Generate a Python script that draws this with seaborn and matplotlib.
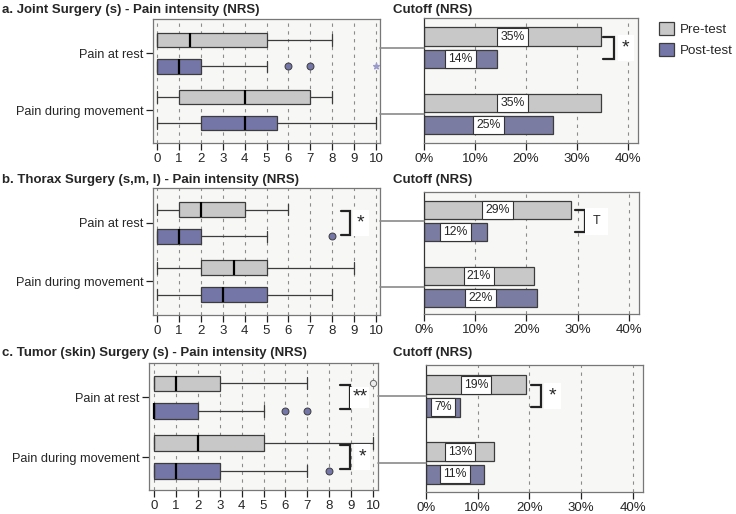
import numpy as np
import pandas as pd
import seaborn as sns
import matplotlib.pyplot as plt
from matplotlib.lines import Line2D
from matplotlib.patches import Patch

sns.set_theme(style="white")
plt.rcParams['font.family'] = ['Liberation Sans', 'DejaVu Sans']

# ---- data ----
categories = ["Pain at rest", "Pain during movement"]
groups = ["Pre-test", "Post-test"]

titles = ["a. Joint Surgery (s) - Pain intensity (NRS)",
          "b. Thorax Surgery (s,m, l) - Pain intensity (NRS)",
          "c. Tumor (skin) Surgery (s) - Pain intensity (NRS)"]

# box summaries, order: rest pre, rest post, movement pre, movement post
a_whislo = [0, 0, 0, 0]
a_q1 = [0, 0, 1, 2]
a_med = [1.5, 1, 4, 4]
a_q3 = [5, 2, 7, 5.5]
a_whishi = [8, 5, 8, 10]
a_fliers = [[], [6, 7], [], []]
a_extremes = [[], [10], [], []]

b_whislo = [0, 0, 0, 0]
b_q1 = [1, 0, 2, 2]
b_med = [2, 1, 3.5, 3]
b_q3 = [4, 2, 5, 5]
b_whishi = [6, 5, 9, 8]
b_fliers = [[], [8], [], []]
b_extremes = [[], [], [], []]

c_whislo = [0, 0, 0, 0]
c_q1 = [0, 0, 0, 0]
c_med = [1, 0, 2, 1]
c_q3 = [3, 2, 5, 3]
c_whishi = [7, 5, 10, 7]
c_fliers = [[10], [6, 7], [], [8]]
c_extremes = [[], [], [], []]

# cutoff (NRS) percentages per category
a_cut_pre = [34.7, 34.7]
a_cut_post = [14.3, 25.4]
b_cut_pre = [28.7, 21.4]
b_cut_post = [12.3, 22.0]
c_cut_pre = [19.4, 13.1]
c_cut_post = [6.6, 11.3]

nrs_ticks = list(range(0, 11))
pct_ticks = [0, 10, 20, 30, 40]
pct_labels = ["0%", "10%", "20%", "30%", "40%"]

# ---- style ----
GREY = "#c8c8c8"
PURPLE = "#7576a8"
EDGE = "#3c3c3c"
BG = "#f7f7f5"
W, H = 736, 514

fig = plt.figure(figsize=(W / 100, H / 100), dpi=100)


def rect(x0, y0, x1, y1):
    return [x0 / W, 1 - y1 / H, (x1 - x0) / W, (y1 - y0) / H]


def style_axes(ax):
    ax.set_facecolor(BG)
    for s in ax.spines.values():
        s.set_color("#777777")
        s.set_linewidth(0.9)
    ax.tick_params(axis="both", which="both", direction="out", length=5,
                   width=0.9, color="#222222", labelsize=9.5, pad=2,
                   left=True, bottom=True)
    ax.grid(False)


def draw_boxes(ax, whislo, q1, med, q3, whishi, fliers, extremes, xlim, ylim):
    pos = [-0.23, 0.23, 0.77, 1.23]
    stats = [dict(whislo=whislo[i], q1=q1[i], med=med[i], q3=q3[i],
                  whishi=whishi[i], fliers=fliers[i]) for i in range(4)]
    for x in nrs_ticks:
        ax.axvline(x, color="#8c8c8c", lw=0.8, ls=(0, (3, 4)), zorder=0)
    art = ax.bxp(stats, positions=pos, widths=0.26, orientation="horizontal",
                 patch_artist=True, capwidths=0.2,
                 boxprops=dict(edgecolor=EDGE, linewidth=0.9),
                 medianprops=dict(color="black", linewidth=1.6),
                 whiskerprops=dict(color=EDGE, linewidth=0.9),
                 capprops=dict(color=EDGE, linewidth=0.9),
                 flierprops=dict(marker="o", markersize=5,
                                 markerfacecolor=PURPLE, markeredgecolor=EDGE,
                                 markeredgewidth=0.7))
    for i, b in enumerate(art["boxes"]):
        b.set_facecolor(GREY if i % 2 == 0 else PURPLE)
    for i, f in enumerate(art["fliers"]):
        f.set_clip_on(False)
        f.set_zorder(6)
        if i % 2 == 0:
            f.set_markerfacecolor("#ececec")
            f.set_markeredgecolor("#666666")
            f.set_markersize(4.5)
    for i, ex in enumerate(extremes):
        if ex:
            ax.scatter(ex, [pos[i]] * len(ex), marker="*", s=18,
                       color="#9a9bcc", zorder=6, clip_on=False)
    ax.set_xlim(*xlim)
    ax.set_ylim(*ylim)
    ax.set_xticks(nrs_ticks)
    ax.set_xticklabels([str(t) for t in nrs_ticks])
    ax.set_yticks([0, 1])
    ax.set_yticklabels(categories, fontsize=9.2)


def draw_bars(ax, pre, post, ylim):
    df = pd.DataFrame({
        "category": categories * 2,
        "group": [groups[0]] * 2 + [groups[1]] * 2,
        "value": list(pre) + list(post),
    })
    for x in pct_ticks[1:]:
        ax.axvline(x, color="#8c8c8c", lw=0.8, ls=(0, (3, 4)), zorder=0)
    sns.barplot(df, x="value", y="category", hue="group", hue_order=groups,
                palette=[GREY, PURPLE], orient="h", width=0.667, gap=0.16,
                edgecolor=EDGE, linewidth=0.9, errorbar=None, legend=False,
                ax=ax, zorder=2)
    for cont, vals in zip(ax.containers, [pre, post]):
        ax.bar_label(cont, labels=[f"{v:.0f}%" for v in vals],
                     label_type="center", fontsize=8.8,
                     bbox=dict(boxstyle="square,pad=0.25", fc="white",
                               ec="#333333", lw=0.8))
    ax.set_xlim(0, 42)
    ax.set_ylim(*ylim)
    ax.set_xticks(pct_ticks)
    ax.set_xticklabels(pct_labels)
    ax.set_yticks([])
    ax.set_xlabel("")
    ax.set_ylabel("")
    ax.spines["left"].set_color("#333333")


def bracket(ax, x0, x1, yc, half, text, tx, size=14, pad=0.22):
    ax.plot([x0, x1, x1, x0], [yc - half, yc - half, yc + half, yc + half],
            color="#222222", lw=1.6, clip_on=False, zorder=4,
            solid_joinstyle="miter")
    ax.text(tx, yc, text, ha="center", va="center", fontsize=size,
            zorder=5, bbox=dict(boxstyle=f"square,pad={pad}", fc="white",
                                ec="none"))


rows = [
    dict(title_y=10, left=rect(153, 19, 380, 143), right=rect(424, 18, 638, 143),
         lx=(-0.18, 10.18), ly=(1.58, -0.6), ry=(1.44, -0.45),
         box=(a_whislo, a_q1, a_med, a_q3, a_whishi, a_fliers, a_extremes),
         bars=(a_cut_pre, a_cut_post)),
    dict(title_y=180, left=rect(153, 188, 380, 315), right=rect(424, 192, 639, 314),
         lx=(-0.18, 10.18), ly=(1.58, -0.6), ry=(1.41, -0.44),
         box=(b_whislo, b_q1, b_med, b_q3, b_whishi, b_fliers, b_extremes),
         bars=(b_cut_pre, b_cut_post)),
    dict(title_y=353, left=rect(149, 363, 378, 490), right=rect(426, 365, 643, 492),
         lx=(-0.23, 10.23), ly=(1.55, -0.57), ry=(1.43, -0.46),
         box=(c_whislo, c_q1, c_med, c_q3, c_whishi, c_fliers, c_extremes),
         bars=(c_cut_pre, c_cut_post)),
]

axes = []
for r, title in zip(rows, titles):
    axl = fig.add_axes(r["left"])
    axr = fig.add_axes(r["right"])
    style_axes(axl)
    style_axes(axr)
    draw_boxes(axl, *r["box"], r["lx"], r["ly"])
    draw_bars(axr, *r["bars"], r["ry"])
    fig.text(2 / W, 1 - r["title_y"] / H, title, fontsize=9.5,
             fontweight="bold", va="center", ha="left")
    fig.text(393 / W, 1 - r["title_y"] / H, "Cutoff (NRS)", fontsize=9.5,
             fontweight="bold", va="center", ha="left")
    axes.append((axl, axr))

# connector lines from box panels to cutoff panels
fig.canvas.draw()
inv = fig.transFigure.inverted()
for axl, axr in axes:
    x0 = axl.get_position().x1
    x1 = axr.get_position().x0
    for g in [0, 1]:
        yf = inv.transform(axr.transData.transform((0, g)))[1]
        fig.add_artist(Line2D([x0, x1], [yf, yf], color="#8a8a8a", lw=1.2))

# significance markers
(a_l, a_r), (b_l, b_r), (c_l, c_r) = axes
bracket(a_r, 35.1, 37.3, 0, 0.167, "*", 39.6)
bracket(b_l, 8.4, 8.8, 0, 0.2, "*", 9.3)
bracket(b_r, 29.4, 31.4, 0, 0.167, "T", 33.7, size=9, pad=0.6)
bracket(c_l, 8.5, 8.95, 0, 0.2, "**", 9.4, pad=0.1)
bracket(c_l, 8.5, 8.95, 1, 0.2, "*", 9.5)
bracket(c_r, 20.3, 22.2, 0, 0.167, "*", 24.5)

handles = [Patch(facecolor=GREY, edgecolor=EDGE, lw=0.9),
           Patch(facecolor=PURPLE, edgecolor=EDGE, lw=0.9)]
fig.legend(handles, groups, loc="upper left", bbox_to_anchor=(654 / W, 1 - 17 / H),
           frameon=False, fontsize=9.6, handlelength=1.1, handleheight=1.1,
           handletextpad=0.45, labelspacing=0.5, borderaxespad=0)

fig.savefig("out.png", dpi=100)
